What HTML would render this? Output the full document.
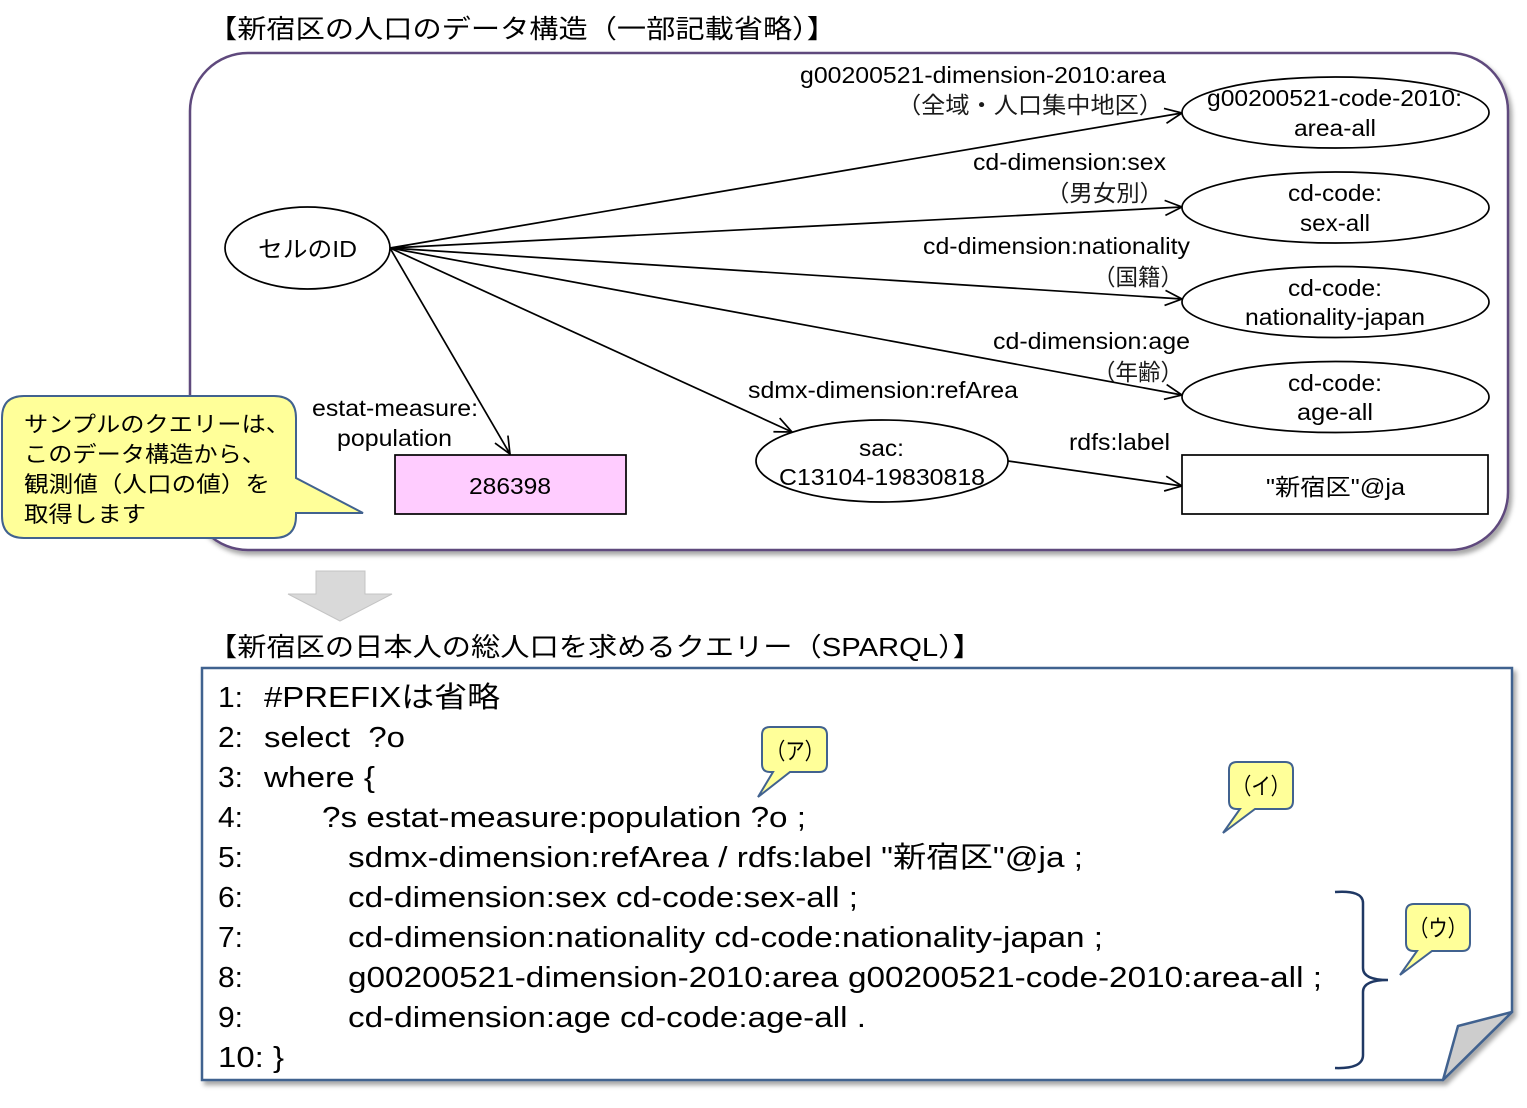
<!DOCTYPE html>
<html>
<head>
<meta charset="utf-8">
<style>
html,body{margin:0;padding:0;background:#fff;}
svg{display:block;}
text{font-family:"Liberation Sans","Noto Sans CJK JP",sans-serif;fill:#000;}
</style>
</head>
<body>
<svg width="1527" height="1108" viewBox="0 0 1527 1108" xmlns="http://www.w3.org/2000/svg">
<defs>
  <filter id="sh" x="-5%" y="-5%" width="110%" height="115%">
    <feDropShadow dx="3" dy="4" stdDeviation="2.5" flood-color="#000" flood-opacity="0.35"/>
  </filter>
  <marker id="ar" viewBox="0 0 20 20" markerWidth="20" markerHeight="20" markerUnits="userSpaceOnUse" refX="18" refY="10" orient="auto">
    <path d="M1,2.5 L18,10 L1,17.5" fill="none" stroke="#000" stroke-width="1.7"/>
  </marker>
</defs>

<!-- Title 1 -->
<text x="208" y="38" font-size="26" textLength="628" lengthAdjust="spacingAndGlyphs">【新宿区の人口のデータ構造（一部記載省略）】</text>

<!-- Big rounded container -->
<rect x="190" y="53" width="1318" height="497" rx="58" ry="58" fill="#fff" stroke="#5f4a7d" stroke-width="2.5" filter="url(#sh)"/>

<!-- Edges -->
<g stroke="#000" stroke-width="1.7" fill="none">
  <line x1="390" y1="248" x2="1182" y2="113" marker-end="url(#ar)"/>
  <line x1="390" y1="248" x2="1182" y2="207" marker-end="url(#ar)"/>
  <line x1="390" y1="248" x2="1182" y2="299" marker-end="url(#ar)"/>
  <line x1="390" y1="248" x2="1182" y2="395" marker-end="url(#ar)"/>
  <line x1="390" y1="248" x2="792" y2="432" marker-end="url(#ar)"/>
  <line x1="390" y1="248" x2="510" y2="454" marker-end="url(#ar)"/>
  <line x1="1008" y1="461" x2="1182" y2="486" marker-end="url(#ar)"/>
</g>

<!-- Nodes -->
<g stroke="#000" stroke-width="1.7" fill="#fff">
  <ellipse cx="307.5" cy="248" rx="82.5" ry="41"/>
  <ellipse cx="1335.5" cy="112.5" rx="153.5" ry="35.5"/>
  <ellipse cx="1335.5" cy="207.5" rx="153.5" ry="35.5"/>
  <ellipse cx="1335.5" cy="302" rx="153.5" ry="35.5"/>
  <ellipse cx="1335.5" cy="397" rx="153.5" ry="35.5"/>
  <ellipse cx="882" cy="461" rx="126" ry="41"/>
  <rect x="1182" y="455" width="306" height="59"/>
  <rect x="395" y="455" width="231" height="59" fill="#ffccff"/>
</g>

<!-- Node texts -->
<g font-size="23">
  <text x="258" y="257" textLength="99" lengthAdjust="spacingAndGlyphs">セルのID</text>
  <text x="1207" y="106" textLength="255" lengthAdjust="spacingAndGlyphs">g00200521-code-2010:</text>
  <text x="1294" y="136" textLength="82" lengthAdjust="spacingAndGlyphs">area-all</text>
  <text x="1288" y="201" textLength="94" lengthAdjust="spacingAndGlyphs">cd-code:</text>
  <text x="1300" y="231" textLength="70" lengthAdjust="spacingAndGlyphs">sex-all</text>
  <text x="1288" y="296" textLength="94" lengthAdjust="spacingAndGlyphs">cd-code:</text>
  <text x="1245" y="325" textLength="180" lengthAdjust="spacingAndGlyphs">nationality-japan</text>
  <text x="1288" y="391" textLength="94" lengthAdjust="spacingAndGlyphs">cd-code:</text>
  <text x="1297" y="420" textLength="76" lengthAdjust="spacingAndGlyphs">age-all</text>
  <text x="1266" y="495" textLength="139" lengthAdjust="spacingAndGlyphs">"新宿区"@ja</text>
  <text x="469" y="494" textLength="82" lengthAdjust="spacingAndGlyphs">286398</text>
  <text x="859" y="456" textLength="45" lengthAdjust="spacingAndGlyphs">sac:</text>
  <text x="779" y="485" textLength="206" lengthAdjust="spacingAndGlyphs">C13104-19830818</text>
</g>

<!-- Edge labels -->
<g font-size="23">
  <text x="800" y="83" textLength="366" lengthAdjust="spacingAndGlyphs">g00200521-dimension-2010:area</text>
  <text x="897" y="113" textLength="266" lengthAdjust="spacingAndGlyphs" style="fill:#1a1a1a">（全域・人口集中地区）</text>
  <text x="973" y="170" textLength="193" lengthAdjust="spacingAndGlyphs">cd-dimension:sex</text>
  <text x="1046" y="201" textLength="117" lengthAdjust="spacingAndGlyphs" style="fill:#1a1a1a">（男女別）</text>
  <text x="923" y="254" textLength="267" lengthAdjust="spacingAndGlyphs">cd-dimension:nationality</text>
  <text x="1093" y="285" textLength="90" lengthAdjust="spacingAndGlyphs" style="fill:#1a1a1a">（国籍）</text>
  <text x="993" y="349" textLength="197" lengthAdjust="spacingAndGlyphs">cd-dimension:age</text>
  <text x="1093" y="380" textLength="90" lengthAdjust="spacingAndGlyphs" style="fill:#1a1a1a">（年齢）</text>
  <text x="748" y="398" textLength="270" lengthAdjust="spacingAndGlyphs">sdmx-dimension:refArea</text>
  <text x="1069" y="450" textLength="101" lengthAdjust="spacingAndGlyphs">rdfs:label</text>
  <text x="312" y="416" textLength="166" lengthAdjust="spacingAndGlyphs">estat-measure:</text>
  <text x="337" y="446" textLength="115" lengthAdjust="spacingAndGlyphs">population</text>
</g>

<!-- Left callout -->
<path d="M24,396 L274,396 Q296,396 296,418 L296,478 L363,513 L296,513 L296,516 Q296,538 274,538 L24,538 Q2,538 2,516 L2,418 Q2,396 24,396 Z" fill="#ffff99" stroke="#41628f" stroke-width="2"/>
<g font-size="22">
  <text x="24" y="432" textLength="266" lengthAdjust="spacingAndGlyphs">サンプルのクエリーは、</text>
  <text x="24" y="462" textLength="242" lengthAdjust="spacingAndGlyphs">このデータ構造から、</text>
  <text x="24" y="492" textLength="246" lengthAdjust="spacingAndGlyphs">観測値（人口の値）を</text>
  <text x="24" y="522" textLength="122" lengthAdjust="spacingAndGlyphs">取得します</text>
</g>

<!-- Down arrow -->
<polygon points="316,571 365,571 365,594 392,594 340,621 288,594 316,594" fill="#d9d9d9" stroke="#c4c4c4" stroke-width="1"/>

<!-- Title 2 -->
<text x="208" y="656" font-size="26" textLength="774" lengthAdjust="spacingAndGlyphs">【新宿区の日本人の総人口を求めるクエリー（SPARQL）】</text>

<!-- Code box -->
<path d="M202,668 L1512,668 L1512,1012 L1443,1080 L202,1080 Z" fill="#fff" stroke="#41628f" stroke-width="2.5" filter="url(#sh)"/>
<path d="M1512,1012 L1458,1026 L1443,1080 Z" fill="#cdcdcd" stroke="#41628f" stroke-width="2.5" stroke-linejoin="round"/>

<!-- Code text -->
<g font-size="29">
  <text x="218" y="707" textLength="25" lengthAdjust="spacingAndGlyphs">1:</text>
  <text x="264" y="707" textLength="236" lengthAdjust="spacingAndGlyphs">#PREFIXは省略</text>
  <text x="218" y="747" textLength="25" lengthAdjust="spacingAndGlyphs">2:</text>
  <text x="264" y="747" textLength="141" lengthAdjust="spacingAndGlyphs">select&#160; ?o</text>
  <text x="218" y="787" textLength="25" lengthAdjust="spacingAndGlyphs">3:</text>
  <text x="264" y="787" textLength="111" lengthAdjust="spacingAndGlyphs">where {</text>
  <text x="218" y="827" textLength="25" lengthAdjust="spacingAndGlyphs">4:</text>
  <text x="322" y="827" textLength="484" lengthAdjust="spacingAndGlyphs">?s estat-measure:population ?o ;</text>
  <text x="218" y="867" textLength="25" lengthAdjust="spacingAndGlyphs">5:</text>
  <text x="348" y="867" textLength="735" lengthAdjust="spacingAndGlyphs">sdmx-dimension:refArea / rdfs:label "新宿区"@ja ;</text>
  <text x="218" y="907" textLength="25" lengthAdjust="spacingAndGlyphs">6:</text>
  <text x="348" y="907" textLength="510" lengthAdjust="spacingAndGlyphs">cd-dimension:sex cd-code:sex-all ;</text>
  <text x="218" y="947" textLength="25" lengthAdjust="spacingAndGlyphs">7:</text>
  <text x="348" y="947" textLength="755" lengthAdjust="spacingAndGlyphs">cd-dimension:nationality cd-code:nationality-japan ;</text>
  <text x="218" y="987" textLength="25" lengthAdjust="spacingAndGlyphs">8:</text>
  <text x="348" y="987" textLength="974" lengthAdjust="spacingAndGlyphs">g00200521-dimension-2010:area g00200521-code-2010:area-all ;</text>
  <text x="218" y="1027" textLength="25" lengthAdjust="spacingAndGlyphs">9:</text>
  <text x="348" y="1027" textLength="518" lengthAdjust="spacingAndGlyphs">cd-dimension:age cd-code:age-all .</text>
  <text x="218" y="1067" textLength="66" lengthAdjust="spacingAndGlyphs">10: }</text>
</g>

<!-- Bracket -->
<path d="M1335,892 Q1363,890 1363,903 L1363,968 Q1363,980 1388,980 Q1363,980 1363,992 L1363,1055 Q1363,1069 1335,1068" fill="none" stroke="#1f3864" stroke-width="2.5"/>

<!-- Small callouts -->
<g fill="#ffff99" stroke="#41628f" stroke-width="2">
  <path d="M770,727 L819,727 Q827,727 827,735 L827,764 Q827,772 819,772 L790,772 L758,797 L773,772 L770,772 Q762,772 762,764 L762,735 Q762,727 770,727 Z"/>
  <path d="M1237,762 L1285,762 Q1293,762 1293,770 L1293,801 Q1293,809 1285,809 L1255,809 L1223,833 L1240,809 L1237,809 Q1229,809 1229,801 L1229,770 Q1229,762 1237,762 Z"/>
  <path d="M1414,904 L1462,904 Q1470,904 1470,912 L1470,943 Q1470,951 1462,951 L1432,951 L1400,975 L1417,951 L1414,951 Q1406,951 1406,943 L1406,912 Q1406,904 1414,904 Z"/>
</g>
<g font-size="23">
  <text x="766" y="759" textLength="58" lengthAdjust="spacingAndGlyphs">（ア）</text>
  <text x="1232" y="794" textLength="58" lengthAdjust="spacingAndGlyphs">（イ）</text>
  <text x="1409" y="936" textLength="58" lengthAdjust="spacingAndGlyphs">（ウ）</text>
</g>
</svg>
</body>
</html>
